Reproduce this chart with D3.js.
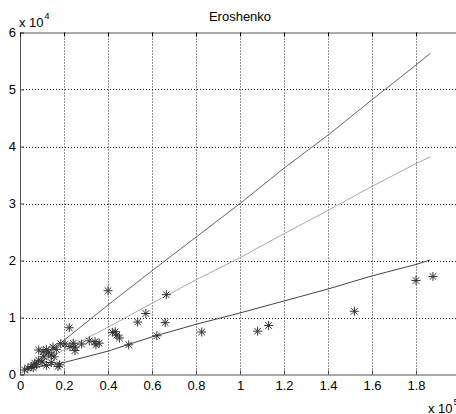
<!DOCTYPE html>
<html>
<head>
<meta charset="utf-8">
<script src="https://cdn.jsdelivr.net/npm/d3@7"></script>
<style>
  body { margin: 0; background: #fff; }
  svg text { font-family: "Liberation Sans", Arial, sans-serif; fill: #000; }
</style>
</head>
<body>
<div id="chart"></div>
<script>
// data (x in units of 1e5, y in units of 1e4)
const xTicks = [0, 0.2, 0.4, 0.6, 0.8, 1, 1.2, 1.4, 1.6, 1.8, 2];
const yTicks = [0, 1, 2, 3, 4, 5, 6];

const lineX = [0.03, 0.2, 0.4, 0.6, 0.8, 1.0, 1.2, 1.4, 1.6, 1.8, 1.865];
const upperY = [0.1, 0.6, 1.22, 1.82, 2.41, 3.0, 3.62, 4.2, 4.82, 5.43, 5.635];
const middleY = [0.1, 0.43, 0.83, 1.25, 1.66, 2.05, 2.47, 2.88, 3.3, 3.7, 3.82];
const lowerY = [0.1, 0.21, 0.41, 0.66, 0.88, 1.08, 1.29, 1.5, 1.73, 1.93, 2.01];

const pointsX = [0.40, 0.665, 0.572, 0.535, 0.66, 0.224, 0.42, 0.433, 0.44, 0.452, 0.622, 0.826, 0.494,
  1.08, 1.13, 1.52, 1.80, 1.877,
  0.28, 0.315, 0.341, 0.36, 0.345, 0.242, 0.227, 0.205, 0.25, 0.25,
  0.085, 0.105, 0.12, 0.15, 0.165, 0.185, 0.142, 0.155, 0.109, 0.085, 0.067, 0.10, 0.142, 0.173,
  0.18, 0.036, 0.051, 0.021, 0.075, 0.12, 0.06, 0.13];
const pointsY = [1.47, 1.40, 1.07, 0.92, 0.91, 0.82, 0.74, 0.75, 0.69, 0.64, 0.68, 0.745, 0.52,
  0.76, 0.86, 1.11, 1.65, 1.72,
  0.535, 0.59, 0.575, 0.55, 0.52, 0.55, 0.49, 0.535, 0.48, 0.42,
  0.43, 0.40, 0.44, 0.48, 0.44, 0.54, 0.34, 0.31, 0.31, 0.25, 0.20, 0.22, 0.21, 0.14,
  0.17, 0.11, 0.14, 0.08, 0.17, 0.16, 0.12, 0.38];

const W = 456, H = 414;
const pLeft = 20, pRight = 460, pTop = 32.5, pBottom = 374.5;

const svg = d3.select("#chart").append("svg")
    .attr("width", W)
    .attr("height", H);

const x = d3.scaleLinear().domain([0, 2]).range([pLeft, pRight]);
const y = d3.scaleLinear().domain([0, 6]).range([pBottom, pTop]);

// grid
const grid = svg.append("g").attr("stroke", "#222").attr("stroke-width", 1).attr("stroke-dasharray", "1,2");
grid.selectAll("line.gx").data(xTicks.slice(1)).join("line")
    .attr("x1", d => Math.round(x(d)) + 0.5).attr("x2", d => Math.round(x(d)) + 0.5)
    .attr("y1", pTop).attr("y2", pBottom);
grid.selectAll("line.gy").data(yTicks.slice(1, -1)).join("line")
    .attr("x1", pLeft).attr("x2", pRight)
    .attr("y1", d => Math.round(y(d)) + 0.5).attr("y2", d => Math.round(y(d)) + 0.5);

// axes (ticks point inward)
const xAxis = svg.append("g")
    .attr("transform", `translate(0,${pBottom})`)
    .call(d3.axisBottom(x).tickValues(xTicks).tickSize(-4).tickPadding(6)
        .tickFormat(d3.format("~g")));
const yAxis = svg.append("g")
    .attr("transform", `translate(${pLeft},0)`)
    .call(d3.axisLeft(y).tickValues(yTicks).tickSize(-4).tickPadding(4)
        .tickFormat(d3.format("d")));
svg.append("g")
    .attr("transform", `translate(0,${pTop})`)
    .call(d3.axisTop(x).tickValues(xTicks).tickSize(-4).tickFormat(""));

[xAxis, yAxis].forEach(a => {
  a.selectAll("text").style("font-size", "13px").attr("fill", "#000");
  a.selectAll("path, line").attr("stroke", "#444");
});
svg.selectAll(".domain").attr("stroke", "#555");

// fitted lines
const line = d3.line().x((d, i) => x(lineX[i])).y(d => y(d));
const series = [
  { vals: upperY, color: "#666" },
  { vals: middleY, color: "#aaa" },
  { vals: lowerY, color: "#444" }
];
svg.selectAll("path.fit").data(series).join("path")
    .attr("class", "fit")
    .attr("fill", "none")
    .attr("stroke", d => d.color)
    .attr("stroke-width", 1)
    .attr("d", d => line(d.vals));

// asterisk markers
const r = 4.5, rd = 3.3;
const marks = svg.append("g").attr("stroke", "#333").attr("stroke-width", 1).attr("fill", "none");
marks.selectAll("path").data(pointsX).join("path")
    .attr("transform", (d, i) => `translate(${x(d)},${y(pointsY[i])})`)
    .attr("d", `M${-r},0H${r}M0,${-r}V${r}M${-rd},${-rd}L${rd},${rd}M${-rd},${rd}L${rd},${-rd}`);

// title and exponent labels
svg.append("text").attr("x", (pLeft + pRight) / 2).attr("y", 21)
    .attr("text-anchor", "middle").style("font-size", "13px").text("Eroshenko");

const ey = svg.append("text").attr("x", 19).attr("y", 27).style("font-size", "13px");
ey.append("tspan").text("x 10");
ey.append("tspan").attr("dy", -8).attr("dx", 1).style("font-size", "9px").text("4");

const ex = svg.append("text").attr("x", 428).attr("y", 413).style("font-size", "13px");
ex.append("tspan").text("x 10");
ex.append("tspan").attr("dy", -8).attr("dx", 1).style("font-size", "9px").text("5");
</script>
</body>
</html>
